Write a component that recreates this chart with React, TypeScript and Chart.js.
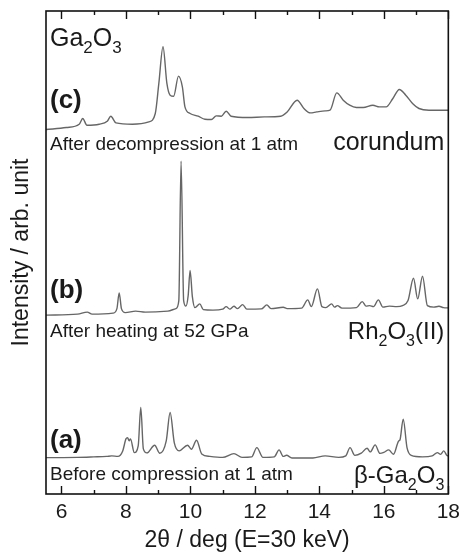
import React, { useEffect, useRef } from "react";
import { Chart, registerables } from "chart.js";

Chart.register(...registerables);

// 2θ (deg) and intensity (arb. units, offset stacked)
const patternAX = [5.52, 6.5, 7.0, 7.4, 7.56, 7.75, 7.9, 8.0, 8.05, 8.1, 8.14, 8.26, 8.38, 8.46, 8.54, 8.65, 8.89, 9.05, 9.25, 9.37, 9.5, 9.65, 9.91, 10.03, 10.19, 10.35, 10.6, 11.0, 11.35, 11.6, 11.9, 12.06, 12.25, 12.6, 12.75, 12.88, 12.98, 13.15, 13.8, 14.18, 14.6, 14.82, 14.95, 15.1, 15.3, 15.48, 15.58, 15.73, 15.88, 16.0, 16.15, 16.3, 16.46, 16.5, 16.6, 16.72, 16.85, 17.2, 17.5, 17.66, 17.76, 17.86, 17.95, 18.0];
const patternAY = [36.3, 36.5, 37, 37.5, 38, 37.5, 43, 55, 56.3, 53, 55, 41.3, 48, 86.3, 45, 41, 48.7, 40.7, 53, 81.3, 51, 43, 48.7, 44.7, 53.7, 40, 37.5, 36.5, 40.3, 36.5, 37, 46.3, 36.5, 37, 44, 37.5, 38.7, 36, 36, 38, 36.5, 38, 46.3, 38.5, 40.7, 45.7, 42, 49, 40.5, 41.5, 44, 39.7, 53, 54, 74.7, 46, 38.5, 37, 38, 41.3, 39.5, 43, 38.7, 38];

const patternBX = [5.52, 6.5, 6.8, 6.95, 7.6, 7.72, 7.79, 7.86, 7.98, 8.3, 8.6, 9.3, 9.55, 9.64, 9.71, 9.79, 9.86, 9.93, 9.99, 10.06, 10.14, 10.29, 10.4, 10.7, 11.0, 11.11, 11.22, 11.35, 11.46, 11.62, 11.75, 12.2, 12.37, 12.5, 12.88, 13.0, 13.45, 13.64, 13.75, 13.94, 14.08, 14.2, 14.38, 14.47, 14.56, 14.7, 15.15, 15.33, 15.45, 15.56, 15.68, 15.83, 15.97, 16.17, 16.4, 16.58, 16.75, 16.92, 17.05, 17.2, 17.35, 17.55, 17.71, 17.85, 18.0];
const patternBY = [178.5, 179.5, 181.5, 179.5, 180.5, 185, 200.7, 185, 181, 182.5, 181.5, 182.5, 185, 193, 332, 193, 187.5, 198, 223, 197, 186, 189.7, 184, 183.5, 184.5, 187, 184.5, 187.3, 185, 189, 184.5, 184.7, 188.7, 185, 186.3, 185, 185.5, 193.7, 187, 204.7, 187, 186, 189.7, 186.5, 188, 185.5, 186, 192, 187.5, 188, 187, 193.7, 186.5, 187.5, 187, 188, 193, 215.3, 194.7, 217.3, 188, 186.5, 187.3, 186, 185.7];

const patternCX = [5.52, 6.15, 6.55, 6.66, 6.79, 7.17, 7.42, 7.53, 7.69, 8.2, 8.71, 8.91, 9.02, 9.15, 9.27, 9.37, 9.48, 9.63, 9.75, 9.83, 9.99, 10.24, 10.45, 10.65, 10.8, 10.96, 11.11, 11.26, 11.78, 12.29, 12.8, 13.0, 13.31, 13.52, 13.72, 13.92, 14.18, 14.33, 14.54, 14.74, 14.94, 15.15, 15.36, 15.66, 15.86, 16.07, 16.28, 16.48, 16.68, 16.89, 17.09, 17.4, 18.0];
const patternCY = [363.7, 365.7, 369, 374.7, 368, 369, 372, 377, 370.3, 369, 371.3, 379.7, 409.7, 446.3, 409.7, 398, 397, 417, 406.3, 386.3, 379.7, 377, 374, 373.7, 377.3, 377, 382, 377, 375.7, 376.3, 377, 381.3, 393, 384.7, 380.3, 381.3, 382.3, 383, 400.3, 393, 388, 385.7, 385.7, 388, 386.3, 386.3, 394.7, 403.7, 398, 389.7, 384.7, 383, 383];

const xTickValues = [6, 8, 10, 12, 14, 16, 18];
const xMin = 5.52;
const xMax = 18;
const yMin = 0;
const yMax = 482;

const FONT = "'Liberation Sans', Arial, Helvetica, sans-serif";
const LINE_COLOR = "#666666";
const TEXT_COLOR = "#1a1a1a";

type Part = { t: string; sub?: boolean };

function drawRich(ctx: CanvasRenderingContext2D, parts: Part[], x: number, y: number, size: number, align: "left" | "right") {
  const subSize = Math.round(size * 0.68);
  const widths = parts.map((p) => {
    ctx.font = `${p.sub ? subSize : size}px ${FONT}`;
    return ctx.measureText(p.t).width;
  });
  const total = widths.reduce((a, b) => a + b, 0);
  let cx = align === "left" ? x : x - total;
  ctx.textAlign = "left";
  ctx.textBaseline = "alphabetic";
  parts.forEach((p, i) => {
    ctx.font = `${p.sub ? subSize : size}px ${FONT}`;
    ctx.fillText(p.t, cx, p.sub ? y + size * 0.28 : y);
    cx += widths[i];
  });
}

const decorPlugin = {
  id: "decor",
  afterDatasetsDraw(chart: any) {
    const { ctx, chartArea, scales } = chart;
    const { left, right, top, bottom } = chartArea;
    const xs = scales.x;
    ctx.save();
    // frame
    ctx.strokeStyle = "#111";
    ctx.lineWidth = 1.6;
    ctx.strokeRect(left, top, right - left, bottom - top);
    // inward ticks, bottom and top
    ctx.lineWidth = 1.4;
    for (let v = 6; v <= 18; v += 1) {
      const px = Math.round(xs.getPixelForValue(v)) + 0.5;
      const len = v % 2 === 0 ? 8 : 4;
      ctx.beginPath();
      ctx.moveTo(px, bottom);
      ctx.lineTo(px, bottom - len);
      ctx.moveTo(px, top);
      ctx.lineTo(px, top + len);
      ctx.stroke();
    }
    // labels
    ctx.fillStyle = TEXT_COLOR;
    const lx = left + 4;
    drawRich(ctx, [{ t: "Ga" }, { t: "2", sub: true }, { t: "O" }, { t: "3", sub: true }], lx, 46, 25, "left");

    ctx.font = `bold 26px ${FONT}`;
    ctx.textAlign = "left";
    ctx.textBaseline = "alphabetic";
    ctx.fillText("(c)", lx, 108);
    ctx.fillText("(b)", lx, 298);
    ctx.fillText("(a)", lx, 448);

    ctx.font = `19px ${FONT}`;
    ctx.fillText("After decompression at 1 atm", lx, 150);
    ctx.fillText("After heating at 52 GPa", lx, 337);
    ctx.fillText("Before compression at 1 atm", lx, 480);

    const rx = right - 4;
    drawRich(ctx, [{ t: "corundum" }], rx, 150, 25, "right");
    drawRich(ctx, [{ t: "Rh" }, { t: "2", sub: true }, { t: "O" }, { t: "3", sub: true }, { t: "(II)" }], rx, 339, 24, "right");
    drawRich(ctx, [{ t: "\u03b2-Ga" }, { t: "2", sub: true }, { t: "O" }, { t: "3", sub: true }], rx, 483, 24, "right");
    ctx.restore();
  },
};

function toPoints(xs: number[], ys: number[]) {
  return xs.map((x, i) => ({ x, y: ys[i] }));
}

export default function App() {
  const ref = useRef<HTMLCanvasElement | null>(null);
  useEffect(() => {
    if (!ref.current) return;
    const ds = (xs: number[], ys: number[]) => ({
      data: toPoints(xs, ys),
      borderColor: LINE_COLOR,
      borderWidth: 1.4,
      pointRadius: 0,
      fill: false,
      cubicInterpolationMode: "monotone" as const,
    });
    const chart = new Chart(ref.current, {
      type: "line",
      data: {
        datasets: [ds(patternAX, patternAY), ds(patternBX, patternBY), ds(patternCX, patternCY)],
      },
      options: {
        animation: false,
        responsive: false,
        devicePixelRatio: 1,
        layout: { padding: { top: 11, right: 13, left: 0, bottom: 0 } },
        plugins: { legend: { display: false }, tooltip: { enabled: false } },
        scales: {
          x: {
            type: "linear",
            min: xMin,
            max: xMax,
            grid: { display: false, drawTicks: false },
            border: { display: false },
            afterBuildTicks: (s: any) => {
              s.ticks = xTickValues.map((v) => ({ value: v }));
            },
            afterFit: (s: any) => {
              s.height = 63;
            },
            ticks: {
              padding: 6,
              maxRotation: 0,
              autoSkip: false,
              color: TEXT_COLOR,
              font: { family: FONT, size: 21 },
            },
            title: {
              display: true,
              text: "2\u03b8 / deg (E=30 keV)",
              color: TEXT_COLOR,
              font: { family: FONT, size: 23 },
              padding: { top: 0, bottom: 3 },
            },
          },
          y: {
            type: "linear",
            min: yMin,
            max: yMax,
            grid: { display: false, drawTicks: false },
            border: { display: false },
            ticks: { display: false },
            afterFit: (s: any) => {
              s.width = 46;
            },
            title: {
              display: true,
              text: "Intensity / arb. unit",
              color: TEXT_COLOR,
              font: { family: FONT, size: 23 },
              padding: { top: 8, bottom: 0 },
            },
          },
        },
      },
      plugins: [decorPlugin],
    });
    return () => chart.destroy();
  }, []);
  return (
    <div style={{ position: "fixed", left: 0, top: 0, width: 466, height: 557, background: "#fff" }}>
      <canvas ref={ref} width={466} height={557} style={{ width: 466, height: 557, display: "block" }} />
    </div>
  );
}
